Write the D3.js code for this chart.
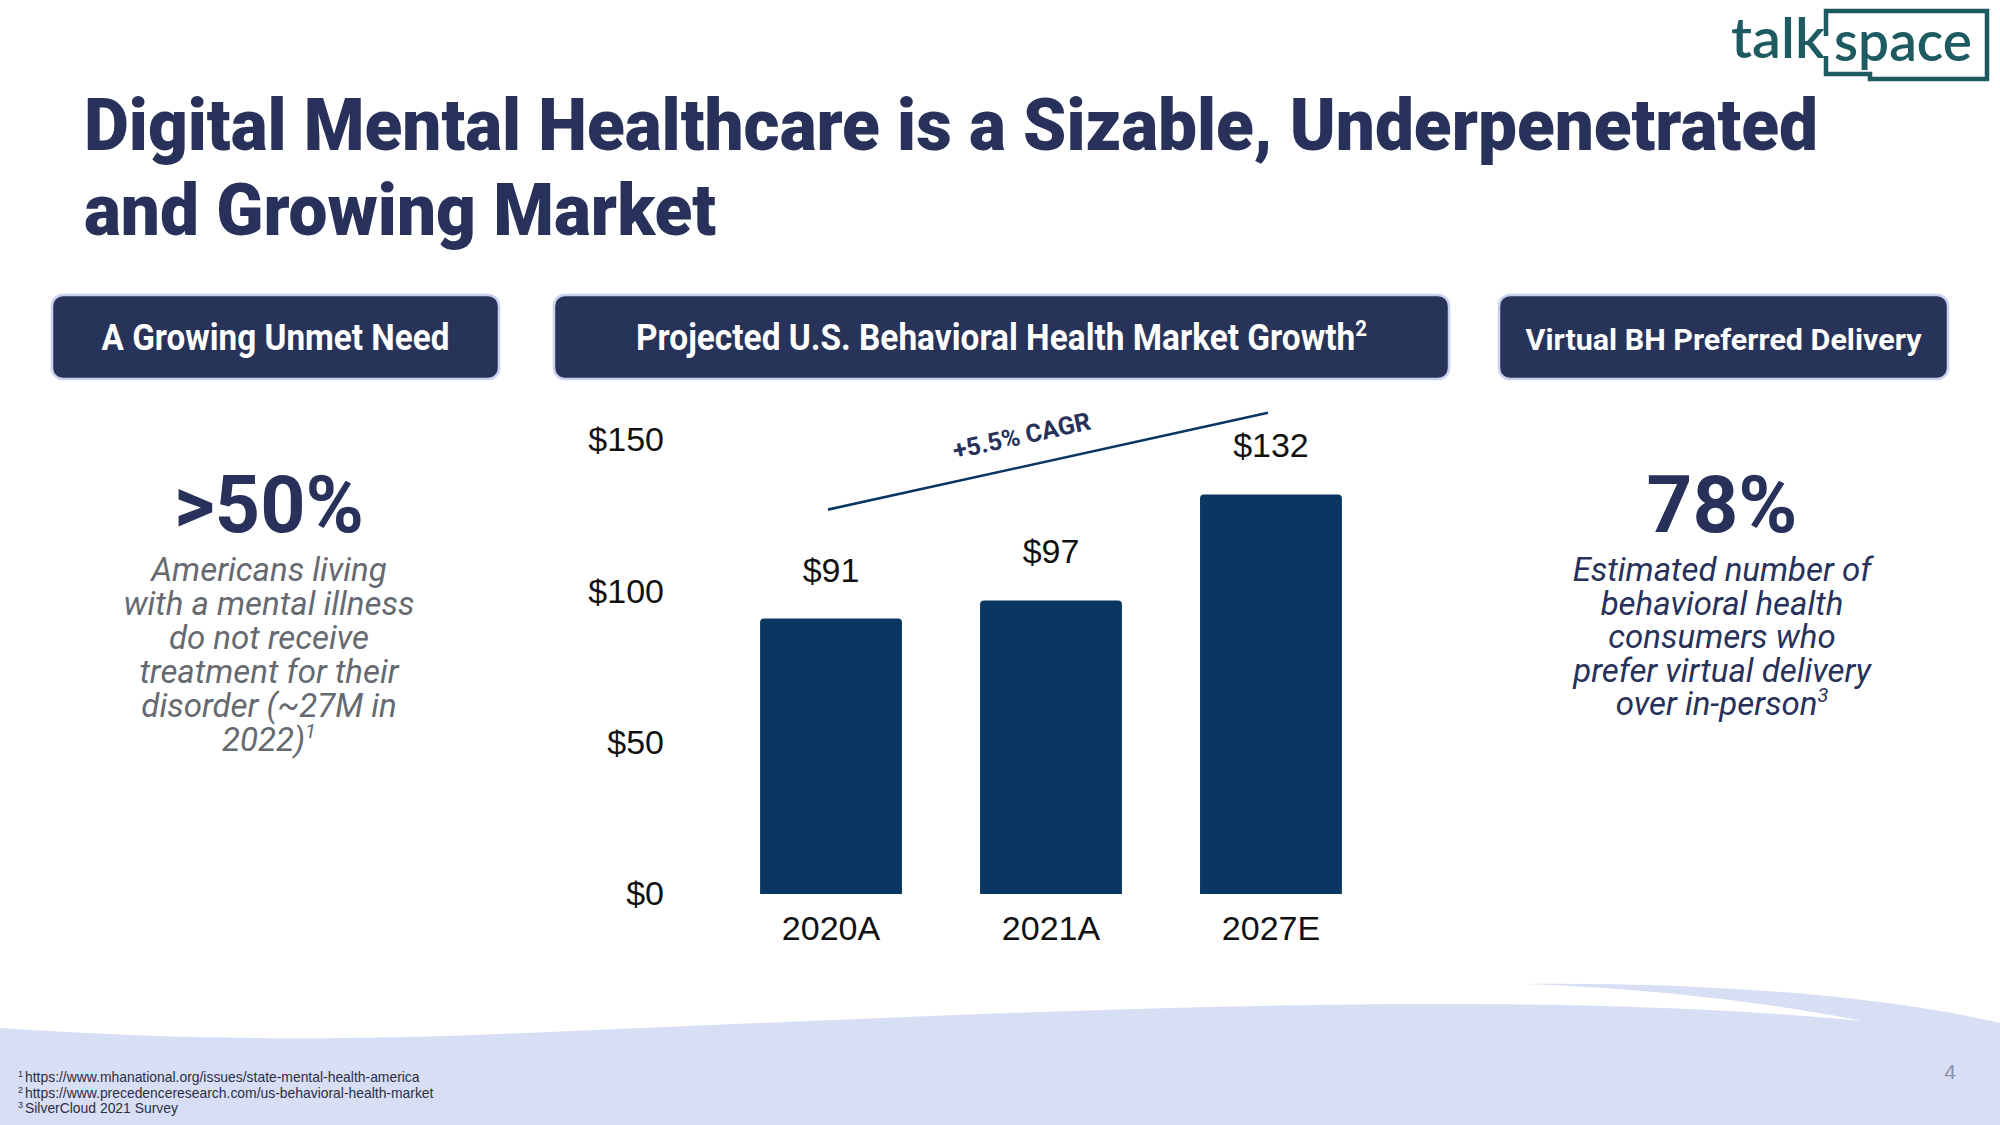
<!DOCTYPE html>
<html><head><meta charset="utf-8">
<script src="https://cdn.jsdelivr.net/npm/d3@7"></script>
<style>html,body{margin:0;padding:0;background:#fff;} svg{display:block;}</style>
</head><body>
<svg id="c" width="2000" height="1125"></svg>
<script>
// ---------- data ----------
const categories = ["2020A", "2021A", "2027E"];
const marketValues = [91, 97, 132];
const valueLabels = ["$91", "$97", "$132"];
const yTicks = [0, 50, 100, 150];
const cagrLabel = "+5.5% CAGR";
const cagrEnds = [127, 159];
const titleLines = ["Digital Mental Healthcare is a Sizable, Underpenetrated", "and Growing Market"];
const headers = ["A Growing Unmet Need", "Projected U.S. Behavioral Health Market Growth", "Virtual BH Preferred Delivery"];
const headerSups = ["", "2", ""];
const leftStat = ">50%";
const leftLines = ["Americans living", "with a mental illness", "do not receive", "treatment for their", "disorder (~27M in", "2022)"];
const rightStat = "78%";
const rightLines = ["Estimated number of", "behavioral health", "consumers who", "prefer virtual delivery", "over in-person"];
const footnotes = ["https://www.mhanational.org/issues/state-mental-health-america", "https://www.precedenceresearch.com/us-behavioral-health-market", "SilverCloud 2021 Survey"];
const pageNumber = "4";

// ---------- styles ----------
const NAVY = "#27315a";
const BAR = "#0a3761";
const TEAL = "#1d5a61";
const svg = d3.select("#c");

// background wave
svg.append("path")
  .attr("d", "M0,1028 C150,1038 300,1042 500,1034 C800,1022 1100,1006 1400,1004 C1600,1003 1750,1010 1862,1021 C1780,1004 1650,988 1523,984 C1700,982 1880,995 2000,1023 L2000,1125 L0,1125 Z")
  .attr("fill", "#d8def3");

// logo
const logo = svg.append("g");
logo.append("path")
  .attr("d", "M1826,36 V11 H1987 V79 H1870 V74 H1826 V56")
  .attr("fill", "none").attr("stroke", TEAL).attr("stroke-width", 4.5);
logo.append("text").attr("x", 1731).attr("y", 58)
  .attr("font-family", "Lato, 'Open Sans', sans-serif").attr("font-weight", 600)
  .attr("font-size", 56).attr("fill", TEAL)
  .attr("textLength", 94).attr("lengthAdjust", "spacingAndGlyphs").text("talk");
logo.append("text").attr("x", 1834).attr("y", 61)
  .attr("font-family", "Lato, 'Open Sans', sans-serif").attr("font-weight", 600)
  .attr("font-size", 56).attr("fill", TEAL)
  .attr("textLength", 138).attr("lengthAdjust", "spacingAndGlyphs").text("space");

// title
const titleLens = [1734, 632];
titleLines.forEach((t, i) => {
  svg.append("text").attr("x", 84).attr("y", 150 + i * 85)
    .attr("font-family", "Roboto, sans-serif").attr("font-weight", 900)
    .attr("font-size", 72).attr("fill", NAVY)
    .attr("textLength", titleLens[i]).attr("lengthAdjust", "spacingAndGlyphs")
    .text(t);
});

// header boxes
const boxes = [
  {x: 52, w: 447, tl: 348, fs: 36},
  {x: 554, w: 895, tl: 731, fs: 36},
  {x: 1499, w: 449, tl: 396, fs: 30}
];
headers.forEach((h, i) => {
  const b = boxes[i];
  svg.append("rect").attr("x", b.x).attr("y", 295).attr("width", b.w).attr("height", 84)
    .attr("rx", 11).attr("fill", "#283359").attr("stroke", "#c9d1ee").attr("stroke-width", 2.5);
  const t = svg.append("text").attr("x", b.x + b.w / 2).attr("y", 350)
    .attr("text-anchor", "middle").attr("font-family", "Roboto, sans-serif")
    .attr("font-weight", 700).attr("font-size", b.fs).attr("fill", "#fff")
    .attr("textLength", b.tl).attr("lengthAdjust", "spacingAndGlyphs");
  t.append("tspan").text(h);
  if (headerSups[i]) t.append("tspan").attr("dy", -14).attr("font-size", 22).text(headerSups[i]);
});

// left column
svg.append("text").attr("x", 269).attr("y", 532).attr("text-anchor", "middle")
  .attr("font-family", "Roboto, sans-serif").attr("font-weight", 700)
  .attr("font-size", 79).attr("fill", NAVY).text(leftStat);
leftLines.forEach((l, i) => {
  const t = svg.append("text").attr("x", 269).attr("y", 581 + i * 34).attr("text-anchor", "middle")
    .attr("font-family", "Roboto, sans-serif").attr("font-weight", 400).attr("font-style", "italic")
    .attr("font-size", 33).attr("fill", "#666a70");
  t.append("tspan").text(l);
  if (i === leftLines.length - 1) t.append("tspan").attr("dy", -13).attr("font-size", 20).text("1");
});

// right column
svg.append("text").attr("x", 1722).attr("y", 532).attr("text-anchor", "middle")
  .attr("font-family", "Roboto, sans-serif").attr("font-weight", 700)
  .attr("font-size", 80).attr("fill", NAVY).text(rightStat);
rightLines.forEach((l, i) => {
  const t = svg.append("text").attr("x", 1722).attr("y", 581 + i * 33.5).attr("text-anchor", "middle")
    .attr("font-family", "Roboto, sans-serif").attr("font-weight", 400).attr("font-style", "italic")
    .attr("font-size", 33).attr("fill", NAVY);
  t.append("tspan").text(l);
  if (i === rightLines.length - 1) t.append("tspan").attr("dy", -13).attr("font-size", 20).text("3");
});

// ---------- chart ----------
const x = d3.scaleBand().domain(categories).range([682, 1420]).padding(0.355);
const y = d3.scaleLinear().domain([0, 150]).range([894, 440]);
const FONT = "'Liberation Sans', Arial, sans-serif";

function topRounded(x0, y0, w, h, r) {
  return `M${x0},${y0 + h}V${y0 + r}Q${x0},${y0} ${x0 + r},${y0}H${x0 + w - r}Q${x0 + w},${y0} ${x0 + w},${y0 + r}V${y0 + h}Z`;
}

const data = categories.map((c, i) => ({c, v: marketValues[i], label: valueLabels[i]}));

svg.append("g").selectAll("path").data(data).join("path")
  .attr("d", d => topRounded(x(d.c), y(d.v), x.bandwidth(), y(0) - y(d.v), 4))
  .attr("fill", BAR);

svg.append("g").selectAll("text").data(data).join("text")
  .attr("x", d => x(d.c) + x.bandwidth() / 2)
  .attr("y", d => y(d.v) - 37)
  .attr("text-anchor", "middle").attr("font-family", FONT).attr("font-size", 34).attr("fill", "#111")
  .text(d => d.label);

const yAxis = svg.append("g").attr("transform", "translate(664,0)")
  .call(d3.axisLeft(y).tickValues(yTicks).tickFormat(d => "$" + d).tickSize(0).tickPadding(0));
yAxis.select(".domain").remove();
yAxis.selectAll("text").attr("font-family", FONT).attr("font-size", 34).attr("fill", "#111");

const xAxis = svg.append("g").attr("transform", "translate(0,894)")
  .call(d3.axisBottom(x).tickSize(0).tickPadding(22));
xAxis.select(".domain").remove();
xAxis.selectAll("text").attr("font-family", FONT).attr("font-size", 34).attr("fill", "#111");

// CAGR line
const cx0 = x(categories[0]) + x.bandwidth() / 2 - 3;
const cx1 = x(categories[categories.length - 1]) + x.bandwidth() / 2 - 3;
const cy0 = y(cagrEnds[0]), cy1 = y(cagrEnds[1]);
svg.append("line").attr("x1", cx0).attr("y1", cy0).attr("x2", cx1).attr("y2", cy1)
  .attr("stroke", BAR).attr("stroke-width", 2.6);
const ang = Math.atan2(cy1 - cy0, cx1 - cx0) * 180 / Math.PI;
const tt = 0.455;
svg.append("text")
  .attr("transform", `translate(${cx0 + tt * (cx1 - cx0)},${cy0 + tt * (cy1 - cy0)}) rotate(${ang})`)
  .attr("y", -22).attr("text-anchor", "middle")
  .attr("font-family", "Roboto, sans-serif").attr("font-weight", 700).attr("font-size", 25)
  .attr("fill", NAVY).text(cagrLabel);

// footnotes
footnotes.forEach((f, i) => {
  const t = svg.append("text").attr("x", 18).attr("y", 1082 + i * 15.5)
    .attr("font-family", FONT).attr("font-size", 13.9).attr("fill", "#2b2f48");
  t.append("tspan").attr("font-size", 9).attr("dy", -5).text(String(i + 1));
  t.append("tspan").attr("dy", 5).attr("dx", 2).text(f);
});

svg.append("text").attr("x", 1950).attr("y", 1079).attr("text-anchor", "middle")
  .attr("font-family", FONT).attr("font-size", 21).attr("fill", "#8a90a8").text(pageNumber);
</script>
</body></html>
